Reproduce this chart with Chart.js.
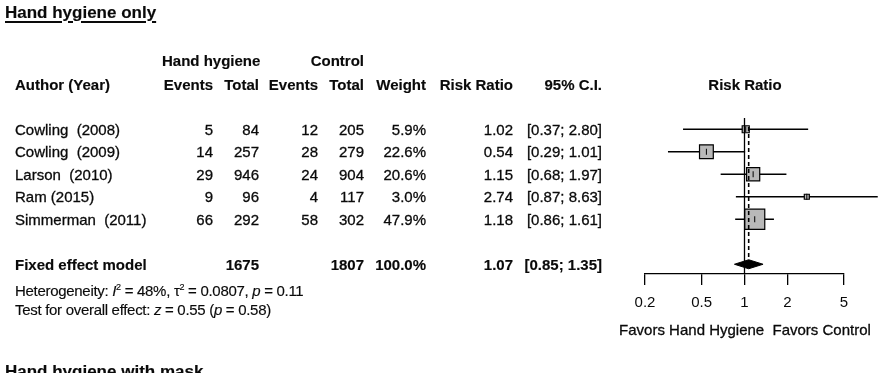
<!DOCTYPE html>
<html><head><meta charset="utf-8">
<script src="https://cdn.jsdelivr.net/npm/chart.js@4/dist/chart.umd.min.js"></script>
<style>
html,body{margin:0;padding:0;background:#fff;width:886px;height:373px;overflow:hidden;}
#wrap{position:relative;width:886px;height:373px;font-family:'Liberation Sans',Arial,sans-serif;color:#0a0a0a;}
canvas{position:absolute;left:0;top:0;}
.t{position:absolute;white-space:pre;line-height:18px;font-size:15px;-webkit-text-stroke:0.3px #0a0a0a;}
.b{font-weight:bold;-webkit-text-stroke:0.15px #0a0a0a;}
.s{font-size:15px;letter-spacing:-0.3px;-webkit-text-stroke:0.15px #0a0a0a;}
.h{font-size:17px;font-weight:bold;line-height:20px;text-decoration:underline;text-underline-offset:3px;text-decoration-thickness:2px;-webkit-text-stroke:0.15px #0a0a0a;}
</style></head><body><div id="wrap"><canvas id="c" width="886" height="373"></canvas></div>
<script>
// ---- data ----
const studies = ["Cowling  (2008)", "Cowling  (2009)", "Larson  (2010)", "Ram (2015)", "Simmerman  (2011)"];
const hhEvents = [5, 14, 29, 9, 66];
const hhTotal = [84, 257, 946, 96, 292];
const ctlEvents = [12, 28, 24, 4, 58];
const ctlTotal = [205, 279, 904, 117, 302];
const weights = [5.9, 22.6, 20.6, 3.0, 47.9];
const riskRatio = [1.02, 0.54, 1.15, 2.74, 1.18];
const ciLower = [0.37, 0.29, 0.68, 0.87, 0.86];
const ciUpper = [2.80, 1.01, 1.97, 8.63, 1.61];
const pooledTotals = [1675, 1807];
const pooledWeight = 100.0;
const pooledRR = 1.07;
const pooledLower = 0.85;
const pooledUpper = 1.35;
const tickValues = [0.2, 0.5, 1, 2, 5];
const tickLabels = ["0.2", "0.5", "1", "2", "5"];
const favorLabels = ["Favors Hand Hygiene", "Favors Control"];
const heterogeneityText = 'Heterogeneity: <i>I</i><sup style="font-size:9px">2</sup> = 48%, \u03C4<sup style="font-size:9px">2</sup> = 0.0807, <i>p</i> = 0.11';
const overallText = 'Test for overall effect: <i>z</i> = 0.55 (<i>p</i> = 0.58)';

// ---- layout helpers ----
const W = 886;
const top0 = 118, rowH = 22.5, yMin = 0.5, yMax = 7.433;
const rowPx = v => top0 + (v - yMin) * rowH;
const pooledRow = 7;
const wrap = document.getElementById('wrap');
function txt(html, x, yc, align, cls) {
  const d = document.createElement('div');
  d.className = 't ' + (cls || '');
  d.innerHTML = html;
  d.style.top = (yc - 9) + 'px';
  if (align === 'right') d.style.right = (W - x) + 'px';
  else if (align === 'center') { d.style.left = (x - 200) + 'px'; d.style.width = '400px'; d.style.textAlign = 'center'; }
  else d.style.left = x + 'px';
  wrap.appendChild(d);
}
// title
const ttl = document.createElement('div');
ttl.className = 't h'; ttl.textContent = 'Hand hygiene only';
ttl.style.left = '5px'; ttl.style.top = '3px'; wrap.appendChild(ttl);
const ttl2 = document.createElement('div');
ttl2.className = 't h'; ttl2.textContent = 'Hand hygiene with mask';
ttl2.style.left = '5px'; ttl2.style.top = '362px'; wrap.appendChild(ttl2);

const colR = {ev1: 213, tot1: 259, ev2: 318, tot2: 364, wt: 426, rr: 513, ci: 602};
txt('Hand hygiene', 162, 61, 'left', 'b');
txt('Control', 364, 61, 'right', 'b');
txt('Author (Year)', 15, 85, 'left', 'b');
txt('Events', colR.ev1, 85, 'right', 'b');
txt('Total', colR.tot1, 85, 'right', 'b');
txt('Events', colR.ev2, 85, 'right', 'b');
txt('Total', colR.tot2, 85, 'right', 'b');
txt('Weight', colR.wt, 85, 'right', 'b');
txt('Risk Ratio', colR.rr, 85, 'right', 'b');
txt('95% C.I.', colR.ci, 85, 'right', 'b');
txt('Risk Ratio', 745, 85, 'center', 'b');

studies.forEach((s, i) => {
  const y = rowPx(i + 1) + 0.5;
  txt(s, 15, y, 'left');
  txt(String(hhEvents[i]), colR.ev1, y, 'right');
  txt(String(hhTotal[i]), colR.tot1, y, 'right');
  txt(String(ctlEvents[i]), colR.ev2, y, 'right');
  txt(String(ctlTotal[i]), colR.tot2, y, 'right');
  txt(weights[i].toFixed(1) + '%', colR.wt, y, 'right');
  txt(riskRatio[i].toFixed(2), colR.rr, y, 'right');
  txt('[' + ciLower[i].toFixed(2) + '; ' + ciUpper[i].toFixed(2) + ']', colR.ci, y, 'right');
});
const py = rowPx(pooledRow) + 0.5;
txt('Fixed effect model', 15, py, 'left', 'b');
txt(String(pooledTotals[0]), colR.tot1, py, 'right', 'b');
txt(String(pooledTotals[1]), colR.tot2, py, 'right', 'b');
txt(pooledWeight.toFixed(1) + '%', colR.wt, py, 'right', 'b');
txt(pooledRR.toFixed(2), colR.rr, py, 'right', 'b');
txt('[' + pooledLower.toFixed(2) + '; ' + pooledUpper.toFixed(2) + ']', colR.ci, py, 'right', 'b');
txt(heterogeneityText, 15, 287, 'left', 's');
txt(overallText, 15, 310, 'left', 's');
txt(favorLabels.join('  '), 745, 330, 'center');

// ---- chart ----
Chart.defaults.font.family = "'Liberation Sans', Arial, sans-serif";
Chart.defaults.color = '#0a0a0a';
const datasets = [];
datasets.push({ data: [{x: 1, y: yMin}, {x: 1, y: yMax}], showLine: true, borderColor: '#000', borderWidth: 1.3, pointRadius: 0, order: 1 });
datasets.push({ data: [{x: pooledRR, y: 0.9}, {x: pooledRR, y: pooledRow}], showLine: true, borderColor: '#000', borderWidth: 1.6, borderDash: [4, 3], pointRadius: 0, order: 1 });
studies.forEach((s, i) => {
  datasets.push({ data: [{x: ciLower[i], y: i + 1}, {x: ciUpper[i], y: i + 1}], showLine: true, borderColor: '#000', borderWidth: 1.4, pointRadius: 0, clip: false, order: 5 });
});
const pts = riskRatio.map((r, i) => ({x: r, y: i + 1}));
datasets.push({ data: pts, pointStyle: 'rect', pointRadius: weights.map(w => 2.05 * Math.sqrt(w)), pointHoverRadius: weights.map(w => 2.05 * Math.sqrt(w)), backgroundColor: '#b9b9b9', borderColor: '#000', borderWidth: 1.2, showLine: false, clip: false, order: 3 });
datasets.push({ data: pts, pointStyle: 'line', rotation: 90, pointRadius: 3, borderColor: '#000', borderWidth: 1, showLine: false, clip: false, order: 2 });
datasets.push({ data: [{x: pooledLower, y: pooledRow}, {x: pooledRR, y: pooledRow - 0.2}, {x: pooledUpper, y: pooledRow}, {x: pooledRR, y: pooledRow + 0.2}, {x: pooledLower, y: pooledRow}],
  showLine: true, fill: 'shape', backgroundColor: '#000', borderColor: '#000', borderWidth: 1, pointRadius: 0, tension: 0, clip: false, order: 1 });

new Chart(document.getElementById('c'), {
  type: 'scatter',
  data: { datasets },
  options: {
    responsive: false, animation: false,
    layout: { padding: { left: 645, right: 42, top: top0, bottom: 61 } },
    plugins: { legend: { display: false }, tooltip: { enabled: false } },
    scales: {
      x: {
        type: 'logarithmic', min: tickValues[0], max: tickValues[tickValues.length - 1],
        afterBuildTicks: sc => { sc.ticks = tickValues.map(v => ({ value: v })); },
        afterFit: sc => { sc.paddingLeft = 0; sc.paddingRight = 0; sc.height = 38; },
        grid: { drawOnChartArea: false, drawTicks: true, tickLength: 11, color: '#000', lineWidth: 1.3 },
        border: { display: true, color: '#000', width: 1.3 },
        ticks: { autoSkip: false, maxRotation: 0, padding: 9, font: { size: 15 }, color: '#0a0a0a',
          callback: (v) => { const k = tickValues.indexOf(v); return k >= 0 ? tickLabels[k] : ''; } }
      },
      y: { type: 'linear', reverse: true, min: yMin, max: yMax, display: false }
    }
  }
});
</script></body></html>
